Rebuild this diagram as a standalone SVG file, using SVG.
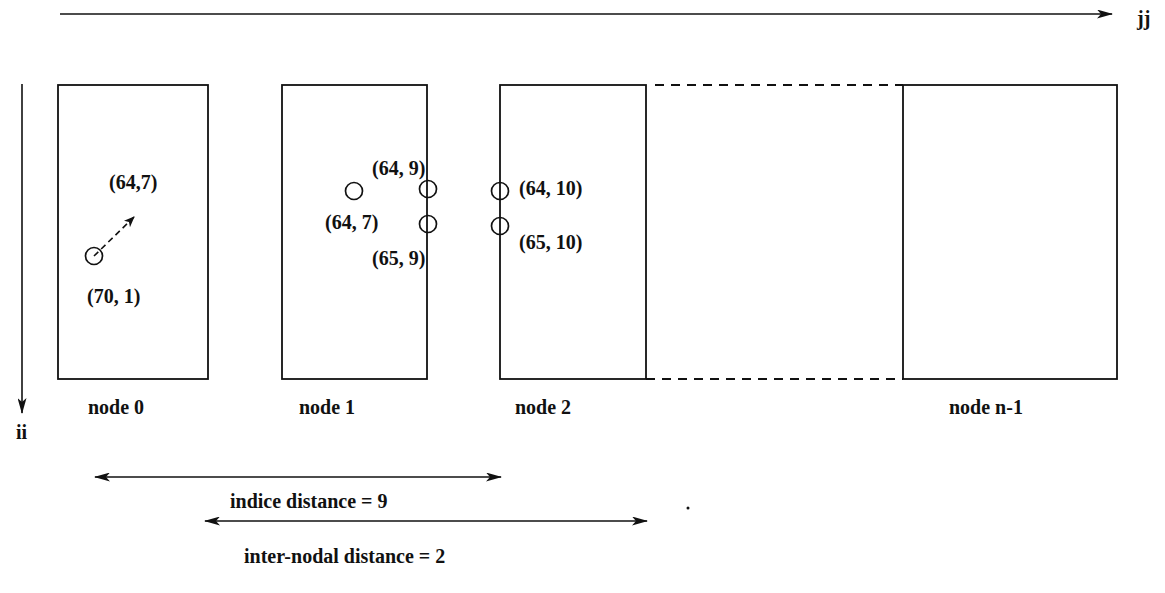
<svg xmlns="http://www.w3.org/2000/svg" width="1165" height="593" viewBox="0 0 1165 593">
<style>
.t{font-family:"Liberation Serif","Times New Roman",serif;font-size:20px;font-weight:bold;fill:#111}
.box{fill:none;stroke:#111;stroke-width:1.8}
.ln{fill:none;stroke:#111;stroke-width:1.6}
.dash{fill:none;stroke:#111;stroke-width:1.8;stroke-dasharray:9,7}
.c{fill:none;stroke:#111;stroke-width:1.7}
</style>
<defs>
<marker id="ah" viewBox="0 0 16 9" refX="15" refY="4.5" markerWidth="16" markerHeight="9" markerUnits="userSpaceOnUse" orient="auto-start-reverse">
<path d="M0,0 L16,4.5 L0,9 L4,4.5 z" fill="#111"/>
</marker>
<marker id="ahs" viewBox="0 0 11 9" refX="10" refY="4.5" markerWidth="11" markerHeight="9" markerUnits="userSpaceOnUse" orient="auto">
<path d="M0,0 L11,4.5 L0,9 L3,4.5 z" fill="#111"/>
</marker>
</defs>
<rect width="1165" height="593" fill="#fff"/>
<g id="axes">
<line class="ln" x1="60" y1="14" x2="1112" y2="14" marker-end="url(#ah)"/>
<text class="t" x="1137" y="25">jj</text>
<line class="ln" x1="22" y1="84" x2="22" y2="413" marker-end="url(#ah)"/>
<text class="t" x="16" y="439">ii</text>
</g>
<g id="node0">
<rect class="box" x="58" y="85" width="150" height="294"/>
<text class="t" x="88" y="414">node 0</text>
<text class="t" x="109" y="189">(64,7)</text>
<text class="t" x="87" y="303">(70, 1)</text>
<circle class="c" cx="94" cy="256" r="8.5"/>
</g>
<g id="node1">
<rect class="box" x="282" y="85" width="145" height="294"/>
<text class="t" x="299" y="414">node 1</text>
<circle class="c" cx="354" cy="191" r="8.5"/>
<circle class="c" cx="428" cy="189" r="8.5"/>
<circle class="c" cx="428" cy="224" r="8.5"/>
<text class="t" x="372" y="175">(64, 9)</text>
<text class="t" x="325" y="229">(64, 7)</text>
<text class="t" x="372" y="265">(65, 9)</text>
</g>
<g id="node2">
<rect class="box" x="500" y="85" width="146" height="294"/>
<text class="t" x="515" y="414">node 2</text>
<circle class="c" cx="500" cy="191" r="8.5"/>
<circle class="c" cx="500" cy="226" r="8.5"/>
<text class="t" x="519" y="195">(64, 10)</text>
<text class="t" x="519" y="249">(65, 10)</text>
</g>
<g id="noden1">
<rect class="box" x="903" y="85" width="214" height="294"/>
<text class="t" x="949" y="414">node n-1</text>
</g>
<g id="connectors">
<line class="dash" x1="655" y1="85" x2="903" y2="85"/>
<line class="dash" x1="646" y1="379" x2="903" y2="379"/>
<line class="ln" x1="94" y1="256" x2="134" y2="217" stroke-dasharray="6,4" marker-end="url(#ahs)"/>
<line class="ln" x1="95" y1="477" x2="501" y2="477" marker-start="url(#ah)" marker-end="url(#ah)"/>
<line class="ln" x1="205" y1="521" x2="647" y2="521" marker-start="url(#ah)" marker-end="url(#ah)"/>
</g>
<g id="labels">
<text class="t" x="230" y="508">indice distance = 9</text>
<text class="t" x="244" y="563">inter-nodal distance = 2</text>
<circle cx="688" cy="508" r="1.5" fill="#111"/>
</g>
</svg>
